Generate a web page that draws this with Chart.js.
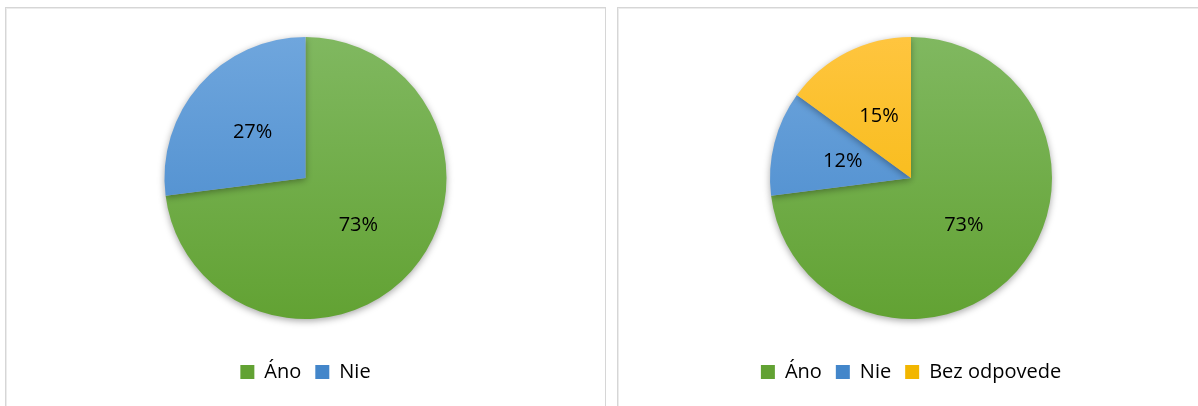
<!DOCTYPE html>
<html>
<head>
<meta charset="utf-8">
<script src="https://cdn.jsdelivr.net/npm/chart.js@4.4.0/dist/chart.umd.min.js"></script>
<style>
  body { margin: 0; background: #fff; width: 1198px; height: 406px; overflow: hidden; position: relative; }
  .panel { position: absolute; top: 7px; height: 420px; border: 1px solid #d6d6d6; box-shadow: inset 1px 1px 0 #ececec; background: #fff; }
  #p1 { left: 5px; width: 599px; }
  #p2 { left: 617px; width: 600px; }
  .panel canvas { position: absolute; left: 0; top: 0; }
</style>
</head>
<body>
<div class="panel" id="p1"><canvas id="graf1" width="599" height="398"></canvas></div>
<div class="panel" id="p2"><canvas id="graf2" width="586" height="398"></canvas></div>
<script>
const kategorie1 = ['Áno', 'Nie'];
const hodnoty1 = [73, 27];

const kategorie2 = ['Áno', 'Nie', 'Bez odpovede'];
const hodnoty2 = [73, 12, 15];

const polomer = 141;

// farby segmentov: svetlejsia hore, tmavsia dole
const farby = {
    'Áno': ['#80b860', '#62a233'],
    'Nie': ['#6fa6dd', '#4386ca'],
    'Bez odpovede': ['#ffc53f', '#f2b600']
};

const pismo = "'Open Sans', 'Noto Sans', sans-serif";

function vypln(ctx) {
    const chart = ctx.chart;
    const area = chart.chartArea;
    const nazov = chart.data.labels[ctx.dataIndex];
    const [hore, dole] = farby[nazov];
    if (!area) return hore;
    const stred = (area.top + area.bottom) / 2;
    const g = chart.ctx.createLinearGradient(0, stred - polomer, 0, stred + polomer);
    g.addColorStop(0, hore);
    g.addColorStop(1, dole);
    return g;
}

// tien pod kolacom
const tien = {
    id: 'tien',
    beforeDatasetsDraw(chart) {
        const c = chart.ctx;
        c.save();
        c.shadowColor = 'rgba(0,0,0,0.35)';
        c.shadowBlur = 7;
        c.shadowOffsetY = 2;
    },
    afterDatasetsDraw(chart) {
        chart.ctx.restore();
    }
};

// percenta do stredu segmentov
const percenta = {
    id: 'percenta',
    afterDatasetsDraw(chart) {
        const c = chart.ctx;
        const data = chart.data.datasets[0].data;
        const spolu = data.reduce((a, b) => a + b, 0);
        c.save();
        c.font = '20px ' + pismo;
        c.fillStyle = '#000';
        c.textAlign = 'center';
        c.textBaseline = 'middle';
        chart.getDatasetMeta(0).data.forEach((arc, i) => {
            const p = arc.getCenterPoint();
            c.fillText(Math.round(data[i] / spolu * 100) + '%', p.x, p.y + 1);
        });
        c.restore();
    }
};

function kolac(id, kategorie, hodnoty) {
    const data = {
        labels: kategorie,
        datasets: [{
            data: hodnoty,
            backgroundColor: vypln,
            borderWidth: 0,
            radius: polomer
        }]
    };

    const config = {
        type: 'pie',
        data: data,
        plugins: [tien, percenta],
        options: {
            responsive: false,
            animation: false,
            layout: { padding: { top: 0, bottom: 14 } },
            plugins: {
                tooltip: { enabled: false },
                legend: {
                    position: 'bottom',
                    labels: {
                        boxWidth: 14,
                        boxHeight: 14,
                        padding: 14,
                        color: '#000',
                        font: { family: pismo, size: 20 },
                        generateLabels(chart) {
                            return chart.data.labels.map((l, i) => ({
                                text: l,
                                fillStyle: farby[l][1],
                                strokeStyle: farby[l][1],
                                lineWidth: 0,
                                index: i
                            }));
                        }
                    }
                }
            }
        }
    };

    const ctx = document.getElementById(id).getContext('2d');
    return new Chart(ctx, config);
}

kolac('graf1', kategorie1, hodnoty1);
kolac('graf2', kategorie2, hodnoty2);
</script>
</body>
</html>
